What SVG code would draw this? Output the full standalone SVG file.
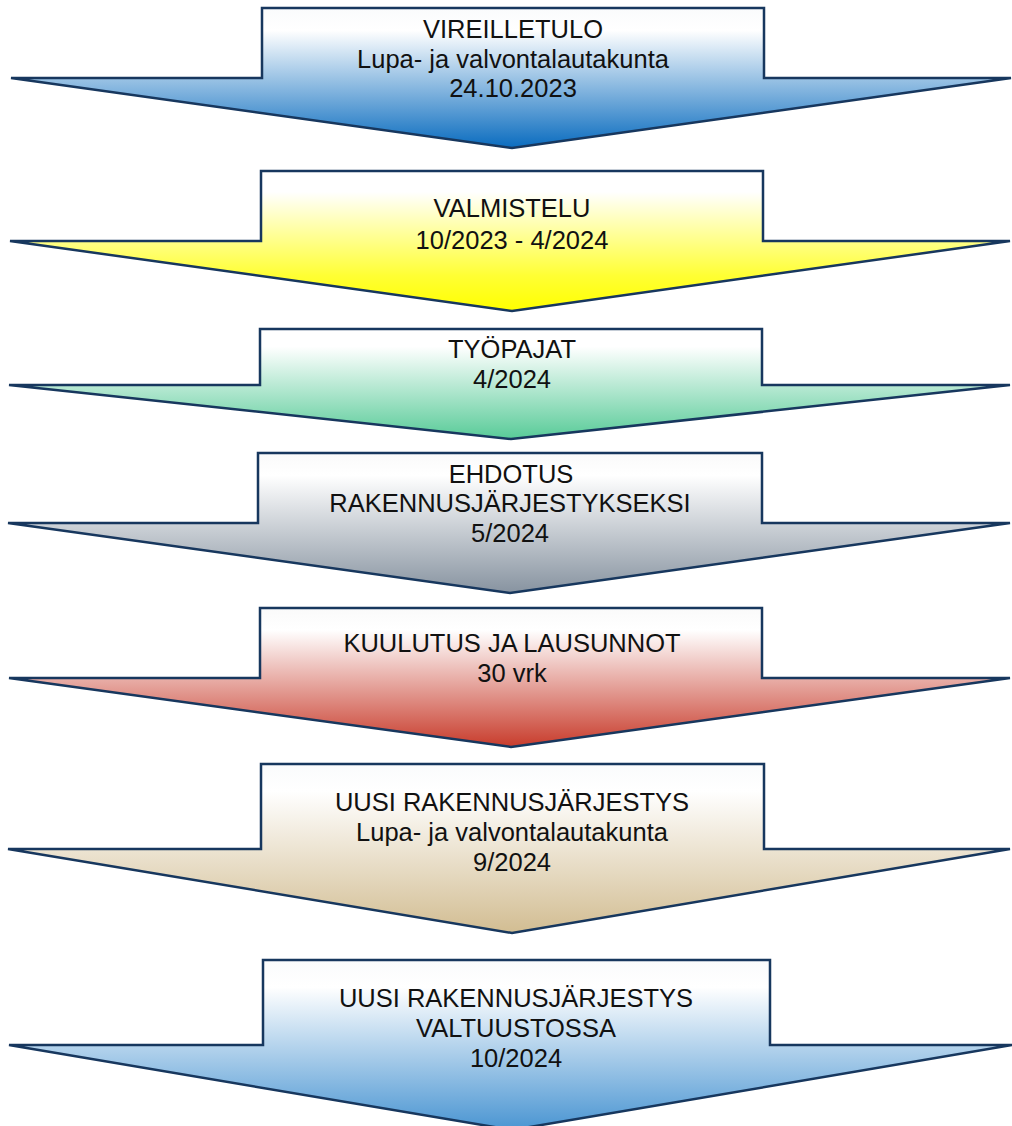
<svg xmlns="http://www.w3.org/2000/svg" width="1012" height="1126" viewBox="0 0 1012 1126">
<defs>
<linearGradient id="gBlue" x1="0" y1="0" x2="0" y2="1"><stop offset="0" stop-color="#fafbfc"/><stop offset="0.16" stop-color="#ffffff"/><stop offset="1" stop-color="#0a6cbf"/></linearGradient>
<linearGradient id="gYellow" x1="0" y1="0" x2="0" y2="1"><stop offset="0" stop-color="#ffffff"/><stop offset="0.15" stop-color="#ffffff"/><stop offset="0.75" stop-color="#ffff33"/><stop offset="1" stop-color="#ffff00"/></linearGradient>
<linearGradient id="gGreen" x1="0" y1="0" x2="0" y2="1"><stop offset="0" stop-color="#ffffff"/><stop offset="0.16" stop-color="#ffffff"/><stop offset="1" stop-color="#58cb98"/></linearGradient>
<linearGradient id="gGray" x1="0" y1="0" x2="0" y2="1"><stop offset="0" stop-color="#fafafa"/><stop offset="0.16" stop-color="#ffffff"/><stop offset="1" stop-color="#8793a0"/></linearGradient>
<linearGradient id="gRed" x1="0" y1="0" x2="0" y2="1"><stop offset="0" stop-color="#fafafa"/><stop offset="0.16" stop-color="#ffffff"/><stop offset="1" stop-color="#c83c2c"/></linearGradient>
<linearGradient id="gTan" x1="0" y1="0" x2="0" y2="1"><stop offset="0" stop-color="#fafbfc"/><stop offset="0.16" stop-color="#ffffff"/><stop offset="1" stop-color="#d2bd92"/></linearGradient>
<linearGradient id="gBlue2" x1="0" y1="0" x2="0" y2="1"><stop offset="0" stop-color="#fafbfc"/><stop offset="0.16" stop-color="#ffffff"/><stop offset="1" stop-color="#4a95d2"/></linearGradient>
</defs>
<style>
.arrow{stroke:#17375e;stroke-width:2.5;stroke-linejoin:miter}
.lbl{font-family:"Liberation Sans",Arial,sans-serif;font-size:25.5px;fill:#111;text-anchor:middle}
</style>
<g id="connectors"></g>
<g id="n1">
<path class="arrow" fill="url(#gBlue)" d="M262,8 H764 V78 H1011 L512,148 L11,78 H262 Z"/>
<text class="lbl" x="513" y="38">VIREILLETULO</text>
<text class="lbl" x="513" y="68">Lupa- ja valvontalautakunta</text>
<text class="lbl" x="513" y="97">24.10.2023</text>
</g>
<g id="n2">
<path class="arrow" fill="url(#gYellow)" d="M261,171 H763 V241 H1010 L512,311 L10,241 H261 Z"/>
<text class="lbl" x="512" y="217">VALMISTELU</text>
<text class="lbl" x="512" y="249">10/2023 - 4/2024</text>
</g>
<g id="n3">
<path class="arrow" fill="url(#gGreen)" d="M260,329 H762 V385 H1010 L511,439 L9,385 H260 Z"/>
<text class="lbl" x="512" y="358">TYÖPAJAT</text>
<text class="lbl" x="512" y="388">4/2024</text>
</g>
<g id="n4">
<path class="arrow" fill="url(#gGray)" d="M258,453 H762 V523 H1010 L510,593 L8,523 H258 Z"/>
<text class="lbl" x="511" y="483">EHDOTUS</text>
<text class="lbl" x="510" y="512">RAKENNUSJÄRJESTYKSEKSI</text>
<text class="lbl" x="510" y="542">5/2024</text>
</g>
<g id="n5">
<path class="arrow" fill="url(#gRed)" d="M260,608 H762 V678 H1010 L511,747 L9,678 H260 Z"/>
<text class="lbl" x="512" y="652">KUULUTUS JA LAUSUNNOT</text>
<text class="lbl" x="512" y="682">30 vrk</text>
</g>
<g id="n6">
<path class="arrow" fill="url(#gTan)" d="M261,764 H764 V849 H1010 L512,933 L8,849 H261 Z"/>
<text class="lbl" x="512" y="811">UUSI RAKENNUSJÄRJESTYS</text>
<text class="lbl" x="512" y="841">Lupa- ja valvontalautakunta</text>
<text class="lbl" x="512" y="871">9/2024</text>
</g>
<g id="n7">
<path class="arrow" fill="url(#gBlue2)" d="M263,960 H770 V1045 H1012 L512,1130 L9,1045 H263 Z"/>
<text class="lbl" x="516" y="1007">UUSI RAKENNUSJÄRJESTYS</text>
<text class="lbl" x="516" y="1037">VALTUUSTOSSA</text>
<text class="lbl" x="516" y="1067">10/2024</text>
</g>
</svg>
